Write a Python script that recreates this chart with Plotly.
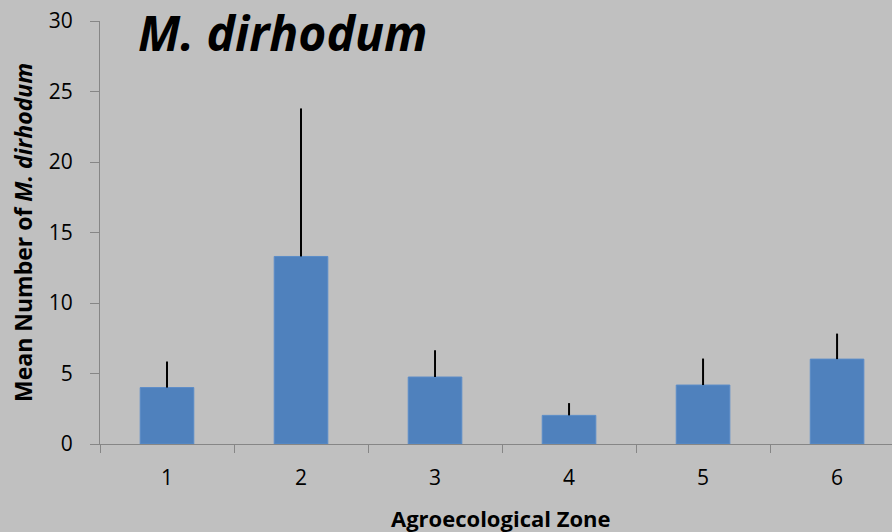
import plotly.graph_objects as go

zones = ["1", "2", "3", "4", "5", "6"]
means = [4.0, 13.3, 4.75, 2.03, 4.18, 6.02]
errors_plus = [1.85, 10.5, 1.9, 0.87, 1.88, 1.81]
y_ticks = [0, 5, 10, 15, 20, 25, 30]

FONT = "Open Sans, Noto Sans, sans-serif"
BG = "#C0C0C0"
AXIS = "#868686"

W, H = 892, 532
L, R, T, B = 100, 0, 21, 88
PW, PH = W - L - R, H - T - B


def px_to_paper(px, py):
    return (px - L) / PW, (H - B - py) / PH


fig = go.Figure()
fig.add_trace(go.Bar(
    x=zones,
    y=means,
    width=0.4,
    marker=dict(color="#4F81BD", line=dict(color="#5B8CC8", width=1)),
    error_y=dict(
        type="data",
        symmetric=False,
        array=errors_plus,
        arrayminus=[0] * len(errors_plus),
        color="black",
        thickness=2,
        width=0,
    ),
    showlegend=False,
))

tx, ty = px_to_paper(136, 32)
yx, yy = px_to_paper(23, 233)
xx, xy = px_to_paper(501, 518)

fig.update_layout(
    width=W,
    height=H,
    margin=dict(l=L, r=R, t=T, b=B),
    paper_bgcolor=BG,
    plot_bgcolor=BG,
    font=dict(family=FONT, color="black", size=21),
    xaxis=dict(
        type="category",
        range=[-0.5, 5.41],
        tickson="boundaries",
        ticks="outside",
        ticklen=8,
        tickwidth=1,
        tickcolor=AXIS,
        showline=True,
        linecolor=AXIS,
        linewidth=1,
        showgrid=False,
        zeroline=False,
        tickfont=dict(size=21),
        ticklabelstandoff=15,
        automargin=False,
    ),
    yaxis=dict(
        range=[0, 30],
        tickvals=y_ticks,
        ticks="outside",
        ticklen=9,
        tickwidth=1,
        tickcolor=AXIS,
        showline=True,
        linecolor=AXIS,
        linewidth=1,
        showgrid=False,
        zeroline=False,
        tickfont=dict(size=21),
        ticklabelstandoff=13,
        automargin=False,
    ),
    annotations=[
        dict(
            text="<b><i>M. dirhodum</i></b>",
            x=tx, y=ty, xref="paper", yref="paper",
            showarrow=False, font=dict(size=48, family=FONT),
            xanchor="left", yanchor="middle",
        ),
        dict(
            text="<b>Mean Number of <i>M. dirhodum</i></b>",
            x=yx, y=yy, xref="paper", yref="paper",
            showarrow=False, font=dict(size=23, family=FONT),
            textangle=-90, xanchor="center", yanchor="middle",
        ),
        dict(
            text="<b>Agroecological Zone</b>",
            x=xx, y=xy, xref="paper", yref="paper",
            showarrow=False, font=dict(size=22, family=FONT),
            xanchor="center", yanchor="middle",
        ),
    ],
)

fig.write_html(
    "out.html",
    config={"displayModeBar": False},
    post_script="document.body.style.margin='0';document.body.style.overflow='hidden';",
)
